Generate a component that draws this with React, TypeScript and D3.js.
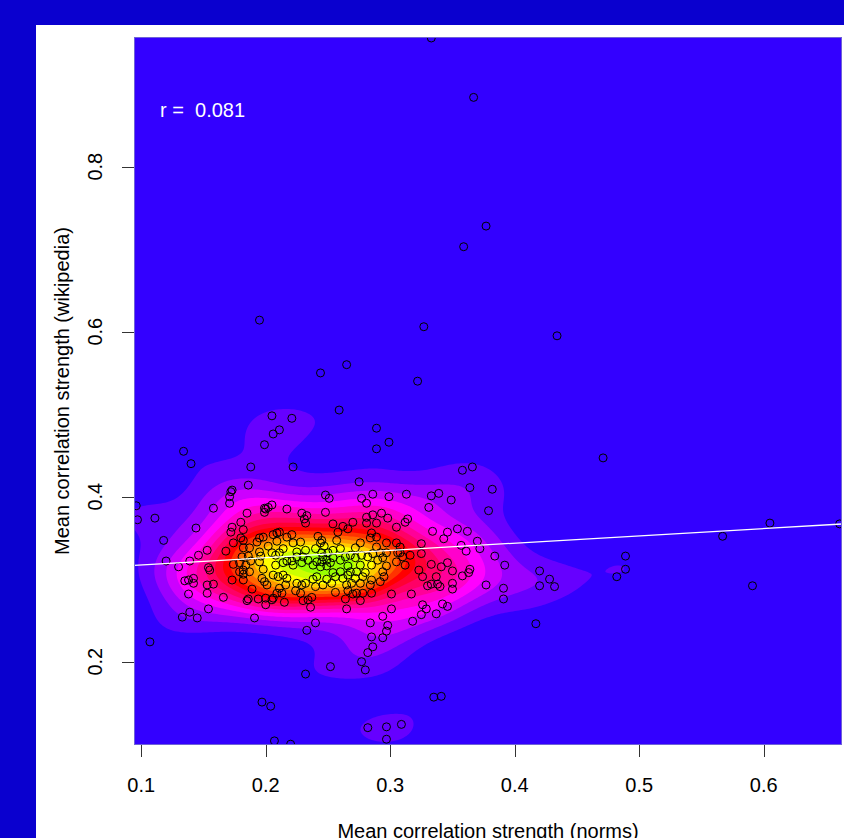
import React, { useEffect, useRef } from 'react';
import * as d3 from 'd3';

// Mean correlation strength per word: norms (x) vs wikipedia (y).
const normsStrength = [
  0.333, 0.367, 0.377, 0.359, 0.195, 0.327, 0.434, 0.265, 0.244, 0.322,
  0.259, 0.205, 0.221, 0.289, 0.211, 0.206, 0.299, 0.289, 0.199, 0.134,
  0.140, 0.188, 0.222, 0.358, 0.366, 0.275, 0.364, 0.382, 0.173, 0.186,
  0.471, 0.379, 0.172, 0.171, 0.171, 0.248, 0.251, 0.277, 0.281, 0.286,
  0.299, 0.313, 0.333, 0.339, 0.349, 0.331, 0.096, 0.097, 0.111, 0.158,
  0.185, 0.199, 0.202, 0.205, 0.199, 0.217, 0.229, 0.233, 0.231, 0.232,
  0.248, 0.281, 0.281, 0.286, 0.293, 0.289, 0.298, 0.312, 0.314, 0.180,
  0.144, 0.254, 0.262, 0.270, 0.200, 0.182, 0.173, 0.172, 0.174, 0.180,
  0.182, 0.168, 0.182, 0.187, 0.193, 0.195, 0.198, 0.181, 0.186, 0.174,
  0.206, 0.209, 0.211, 0.209, 0.214, 0.202, 0.195, 0.196, 0.205, 0.208,
  0.211, 0.217, 0.146, 0.153, 0.139, 0.154, 0.179, 0.184, 0.188, 0.195,
  0.208, 0.214, 0.217, 0.221, 0.242, 0.245, 0.244, 0.247, 0.257, 0.258,
  0.266, 0.272, 0.276, 0.285, 0.284, 0.289, 0.297, 0.289, 0.222, 0.228,
  0.232, 0.254, 0.260, 0.240, 0.245, 0.246, 0.225, 0.225, 0.221, 0.230,
  0.234, 0.229, 0.250, 0.254, 0.260, 0.264, 0.268, 0.272, 0.277, 0.282,
  0.286, 0.290, 0.294, 0.297, 0.292, 0.241, 0.245, 0.249, 0.252, 0.222,
  0.238, 0.244, 0.249, 0.266, 0.276, 0.285, 0.297, 0.142, 0.142, 0.138,
  0.155, 0.153, 0.158, 0.153, 0.138, 0.166, 0.154, 0.139, 0.145, 0.191,
  0.186, 0.185, 0.189, 0.194, 0.200, 0.200, 0.205, 0.215, 0.182, 0.182,
  0.187, 0.197, 0.199, 0.201, 0.206, 0.210, 0.214, 0.217, 0.216, 0.211,
  0.209, 0.213, 0.206, 0.179, 0.173, 0.182, 0.198, 0.135, 0.133, 0.130,
  0.120, 0.225, 0.229, 0.232, 0.228, 0.230, 0.234, 0.237, 0.236, 0.224,
  0.240, 0.241, 0.238, 0.246, 0.249, 0.253, 0.256, 0.254, 0.260, 0.262,
  0.265, 0.269, 0.272, 0.266, 0.268, 0.273, 0.276, 0.278, 0.280, 0.285,
  0.284, 0.292, 0.295, 0.294, 0.256, 0.266, 0.270, 0.273, 0.278, 0.285,
  0.276, 0.264, 0.265, 0.240, 0.233, 0.284, 0.285, 0.298, 0.297, 0.294,
  0.286, 0.107, 0.252, 0.232, 0.282, 0.277, 0.280, 0.301, 0.318, 0.325,
  0.329, 0.326, 0.337, 0.342, 0.346, 0.197, 0.204, 0.207, 0.220, 0.282,
  0.297, 0.309, 0.297, 0.335, 0.341, 0.334, 0.346, 0.343, 0.354, 0.362,
  0.370, 0.372, 0.361, 0.357, 0.325, 0.325, 0.384, 0.392, 0.333, 0.341,
  0.346, 0.350, 0.358, 0.364, 0.363, 0.323, 0.326, 0.308, 0.308, 0.310,
  0.316, 0.312, 0.337, 0.330, 0.333, 0.338, 0.340, 0.350, 0.350, 0.317,
  0.377, 0.391, 0.391, 0.420, 0.428, 0.420, 0.432, 0.417, 0.489, 0.489,
  0.482, 0.567, 0.605, 0.591, 0.661, 0.305, 0.305, 0.306, 0.305, 0.301,
  0.294, 0.118,
];

const wikipediaStrength = [
  0.956, 0.884, 0.728, 0.703, 0.614, 0.606, 0.595, 0.560, 0.550, 0.540,
  0.505, 0.498, 0.495, 0.483, 0.481, 0.476, 0.466, 0.458, 0.463, 0.455,
  0.440, 0.436, 0.436, 0.432, 0.436, 0.418, 0.411, 0.409, 0.408, 0.414,
  0.447, 0.383, 0.406, 0.400, 0.392, 0.402, 0.398, 0.398, 0.392, 0.403,
  0.400, 0.403, 0.401, 0.404, 0.396, 0.387, 0.389, 0.372, 0.374, 0.386,
  0.380, 0.386, 0.387, 0.390, 0.381, 0.385, 0.380, 0.377, 0.373, 0.368,
  0.381, 0.375, 0.368, 0.378, 0.380, 0.368, 0.374, 0.369, 0.373, 0.369,
  0.362, 0.367, 0.364, 0.369, 0.385, 0.360, 0.363, 0.357, 0.344, 0.350,
  0.347, 0.334, 0.338, 0.338, 0.345, 0.350, 0.351, 0.327, 0.328, 0.318,
  0.354, 0.356, 0.357, 0.346, 0.337, 0.340, 0.333, 0.328, 0.332, 0.329,
  0.332, 0.351, 0.329, 0.335, 0.322, 0.314, 0.320, 0.317, 0.322, 0.321,
  0.317, 0.320, 0.322, 0.354, 0.352, 0.347, 0.344, 0.340, 0.347, 0.357,
  0.361, 0.338, 0.344, 0.356, 0.350, 0.351, 0.344, 0.339, 0.344, 0.345,
  0.335, 0.335, 0.337, 0.337, 0.332, 0.327, 0.333, 0.327, 0.322, 0.327,
  0.323, 0.320, 0.332, 0.326, 0.323, 0.327, 0.329, 0.326, 0.329, 0.327,
  0.331, 0.323, 0.326, 0.332, 0.332, 0.321, 0.321, 0.323, 0.320, 0.317,
  0.317, 0.315, 0.316, 0.316, 0.317, 0.317, 0.316, 0.301, 0.295, 0.299,
  0.311, 0.293, 0.294, 0.283, 0.282, 0.278, 0.264, 0.260, 0.253, 0.253,
  0.276, 0.274, 0.288, 0.276, 0.277, 0.269, 0.275, 0.272, 0.306, 0.311,
  0.309, 0.301, 0.297, 0.293, 0.305, 0.303, 0.305, 0.301, 0.293, 0.289,
  0.283, 0.283, 0.277, 0.309, 0.299, 0.299, 0.312, 0.298, 0.254, 0.315,
  0.322, 0.295, 0.293, 0.295, 0.283, 0.274, 0.275, 0.278, 0.266, 0.286,
  0.291, 0.303, 0.300, 0.293, 0.300, 0.295, 0.303, 0.308, 0.309, 0.301,
  0.293, 0.295, 0.301, 0.305, 0.309, 0.309, 0.295, 0.303, 0.308, 0.299,
  0.293, 0.297, 0.303, 0.309, 0.284, 0.286, 0.282, 0.283, 0.283, 0.283,
  0.274, 0.276, 0.264, 0.247, 0.238, 0.247, 0.230, 0.244, 0.237, 0.229,
  0.218, 0.224, 0.194, 0.185, 0.211, 0.200, 0.190, 0.264, 0.249, 0.257,
  0.264, 0.269, 0.258, 0.270, 0.267, 0.151, 0.146, 0.104, 0.100, 0.120,
  0.121, 0.124, 0.106, 0.157, 0.158, 0.358, 0.357, 0.349, 0.361, 0.358,
  0.346, 0.337, 0.334, 0.341, 0.343, 0.331, 0.328, 0.317, 0.318, 0.315,
  0.320, 0.310, 0.304, 0.312, 0.308, 0.311, 0.303, 0.339, 0.332, 0.327,
  0.329, 0.317, 0.303, 0.292, 0.294, 0.294, 0.291, 0.295, 0.288, 0.282,
  0.293, 0.289, 0.276, 0.310, 0.300, 0.292, 0.291, 0.246, 0.328, 0.312,
  0.303, 0.352, 0.368, 0.292, 0.367, 0.363, 0.344, 0.332, 0.321, 0.282,
  0.255, 0.347,
];

const xTicks = [0.1, 0.2, 0.3, 0.4, 0.5, 0.6];
const yTicks = [0.2, 0.4, 0.6, 0.8];
const xDomain = [0.0942, 0.6629];
const yDomain = [0.099, 0.9572];

// least-squares line as drawn in the figure
const fitIntercept = 0.3083;
const fitSlope = 0.0884;
const corrLabel = 'r =  0.081';
const xLabel = 'Mean correlation strength (norms)';
const yLabel = 'Mean correlation strength (wikipedia)';

// blue -> magenta -> red -> yellow -> green, 5 steps per leg
const densityPalette = ['#0000ff', '#ff00ff', '#ff0000', '#ffff00', '#00ff00'];
const DENSITY_LEVELS = 17;
// extra smoothing on top of bandwidth.nrd (x, y)
const BW_ADJUST = [1.05, 1.25];

const WIDTH = 844;
const HEIGHT = 838;
const PLOT = { left: 134, top: 37, right: 842, bottom: 745 };
const FONT = '"Liberation Sans", Arial, Helvetica, sans-serif';

// R's bandwidth.nrd, as used by MASS::kde2d
const bandwidthNrd = (values: number[]) => {
  const sorted = values.slice().sort(d3.ascending);
  const iqr = (d3.quantileSorted(sorted, 0.75) - d3.quantileSorted(sorted, 0.25)) / 1.34;
  const sd = d3.deviation(values);
  return 4 * 1.06 * Math.min(sd, iqr) * Math.pow(values.length, -0.2);
};

const App = () => {
  const svgRef = useRef<SVGSVGElement>(null);

  useEffect(() => {
    const svg = d3.select(svgRef.current);
    svg.selectAll('*').remove();

    const x = d3.scaleLinear().domain(xDomain).range([PLOT.left, PLOT.right]);
    const y = d3.scaleLinear().domain(yDomain).range([PLOT.bottom, PLOT.top]);
    const plotW = PLOT.right - PLOT.left;
    const plotH = PLOT.bottom - PLOT.top;

    svg.append('rect').attr('width', WIDTH).attr('height', HEIGHT).attr('fill', '#0a00cf');
    svg
      .append('rect')
      .attr('x', 36)
      .attr('y', 25)
      .attr('width', WIDTH - 36)
      .attr('height', HEIGHT - 25)
      .attr('fill', '#ffffff');

    svg
      .append('clipPath')
      .attr('id', 'plot-clip')
      .append('rect')
      .attr('x', PLOT.left)
      .attr('y', PLOT.top)
      .attr('width', plotW)
      .attr('height', plotH);

    // 2D kernel density on a pixel grid (anisotropic gaussian like kde2d)
    const pts = normsStrength.map((v, i) => [x(v), y(wikipediaStrength[i])]);
    const sx = (BW_ADJUST[0] * bandwidthNrd(normsStrength) / 4) * (x(1) - x(0));
    const sy = (BW_ADJUST[1] * bandwidthNrd(wikipediaStrength) / 4) * (y(0) - y(1));
    const cell = 2;
    const nx = Math.ceil(plotW / cell);
    const ny = Math.ceil(plotH / cell);
    const grid = new Float64Array(nx * ny);
    const rx = Math.ceil((4 * sx) / cell);
    const ry = Math.ceil((4 * sy) / cell);
    pts.forEach(([px, py]) => {
      const gx = (px - PLOT.left) / cell - 0.5;
      const gy = (py - PLOT.top) / cell - 0.5;
      const i0 = Math.max(0, Math.floor(gx - rx));
      const i1 = Math.min(nx - 1, Math.ceil(gx + rx));
      const j0 = Math.max(0, Math.floor(gy - ry));
      const j1 = Math.min(ny - 1, Math.ceil(gy + ry));
      const wx: number[] = [];
      for (let i = i0; i <= i1; i++) {
        const d = ((i - gx) * cell) / sx;
        wx.push(Math.exp(-0.5 * d * d));
      }
      for (let j = j0; j <= j1; j++) {
        const d = ((j - gy) * cell) / sy;
        const wy = Math.exp(-0.5 * d * d);
        for (let i = i0; i <= i1; i++) grid[j * nx + i] += wx[i - i0] * wy;
      }
    });
    const maxDensity = d3.max(grid);
    const thresholds = d3.range(1, DENSITY_LEVELS).map((k) => (k * maxDensity) / DENSITY_LEVELS);
    const bands = d3.contours().size([nx, ny]).thresholds(thresholds)(Array.from(grid));

    const ramp = d3
      .scaleLinear<string>()
      .domain([0, 0.25, 0.5, 0.75, 1])
      .range(densityPalette)
      .interpolate(d3.interpolateRgb);
    const levelColor = (k: number) => ramp((k + 1) / 20);

    const plot = svg.append('g').attr('clip-path', 'url(#plot-clip)');
    plot
      .append('rect')
      .attr('x', PLOT.left)
      .attr('y', PLOT.top)
      .attr('width', plotW)
      .attr('height', plotH)
      .attr('fill', levelColor(0));

    const bandPath = d3.geoPath(d3.geoIdentity().scale(cell).translate([PLOT.left, PLOT.top]));
    plot
      .append('g')
      .selectAll('path')
      .data(bands)
      .enter()
      .append('path')
      .attr('d', bandPath)
      .attr('fill', (_d, i) => levelColor(i + 1));

    // points
    plot
      .append('g')
      .selectAll('circle')
      .data(pts)
      .enter()
      .append('circle')
      .attr('cx', (d) => d[0])
      .attr('cy', (d) => d[1])
      .attr('r', 4)
      .attr('fill', 'none')
      .attr('stroke', '#000')
      .attr('stroke-width', 1);

    // regression line
    plot
      .append('line')
      .attr('x1', x(xDomain[0]))
      .attr('y1', y(fitIntercept + fitSlope * xDomain[0]))
      .attr('x2', x(xDomain[1]))
      .attr('y2', y(fitIntercept + fitSlope * xDomain[1]))
      .attr('stroke', '#ffffff')
      .attr('stroke-width', 1.3);

    svg
      .append('rect')
      .attr('x', PLOT.left + 0.5)
      .attr('y', PLOT.top + 0.5)
      .attr('width', plotW - 1)
      .attr('height', plotH - 1)
      .attr('fill', 'none')
      .attr('stroke', '#6f62d8')
      .attr('stroke-width', 1);

    // ticks
    svg
      .append('g')
      .selectAll('line')
      .data(xTicks)
      .enter()
      .append('line')
      .attr('x1', (d) => Math.round(x(d)) + 0.5)
      .attr('x2', (d) => Math.round(x(d)) + 0.5)
      .attr('y1', PLOT.bottom)
      .attr('y2', PLOT.bottom + 12)
      .attr('stroke', '#333');
    svg
      .append('g')
      .selectAll('text')
      .data(xTicks)
      .enter()
      .append('text')
      .attr('x', (d) => x(d))
      .attr('y', 792)
      .attr('text-anchor', 'middle')
      .attr('font-family', FONT)
      .attr('font-size', 20)
      .attr('fill', '#000')
      .text((d) => d3.format('.1f')(d));

    svg
      .append('g')
      .selectAll('line')
      .data(yTicks)
      .enter()
      .append('line')
      .attr('y1', (d) => Math.round(y(d)) + 0.5)
      .attr('y2', (d) => Math.round(y(d)) + 0.5)
      .attr('x1', PLOT.left - 12)
      .attr('x2', PLOT.left)
      .attr('stroke', '#333');
    svg
      .append('g')
      .selectAll('text')
      .data(yTicks)
      .enter()
      .append('text')
      .attr('transform', (d) => `translate(102,${y(d)}) rotate(-90)`)
      .attr('text-anchor', 'middle')
      .attr('font-family', FONT)
      .attr('font-size', 20)
      .attr('fill', '#000')
      .text((d) => d3.format('.1f')(d));

    svg
      .append('text')
      .attr('x', (PLOT.left + PLOT.right) / 2)
      .attr('y', 838)
      .attr('text-anchor', 'middle')
      .attr('font-family', FONT)
      .attr('font-size', 20)
      .attr('fill', '#000')
      .text(xLabel);
    svg
      .append('text')
      .attr('transform', `translate(69,${(PLOT.top + PLOT.bottom) / 2}) rotate(-90)`)
      .attr('text-anchor', 'middle')
      .attr('font-family', FONT)
      .attr('font-size', 20)
      .attr('fill', '#000')
      .text(yLabel);

    svg
      .append('text')
      .attr('x', 160)
      .attr('y', 117)
      .attr('font-family', FONT)
      .attr('font-size', 20)
      .attr('fill', '#ffffff')
      .style('white-space', 'pre')
      .text(corrLabel);
  }, []);

  return (
    <svg
      ref={svgRef}
      width={WIDTH}
      height={HEIGHT}
      style={{ position: 'absolute', left: 0, top: 0, display: 'block' }}
    />
  );
};

export default App;
